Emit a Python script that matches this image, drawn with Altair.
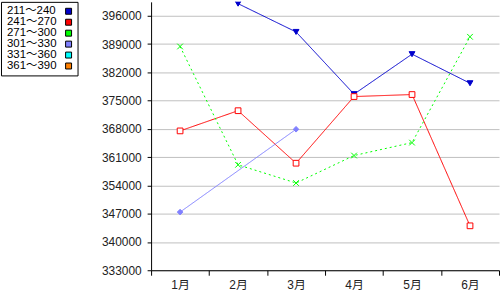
import altair as alt
import pandas as pd

FONT = "Liberation Sans, Noto Sans CJK JP, sans-serif"

months = ["1月", "2月", "3月", "4月", "5月", "6月"]
series_names = ["211～240", "241～270", "271～300", "301～330", "331～360", "361～390"]
series_colors = ["#0000CC", "#FF0000", "#00FF00", "#8080FF", "#00FFFF", "#FF8000"]

v_211_240 = [None, 399000, 392000, 376600, 386500, 379300]
v_241_270 = [367500, 372500, 359500, 376000, 376500, 344000]
v_271_300 = [388400, 359100, 354600, 361400, 364600, 390800]
v_301_330 = [347400, None, 367900, None, None, None]
v_331_360 = [None, None, None, None, None, None]
v_361_390 = [None, None, None, None, None, None]

y_ticks = [333000, 340000, 347000, 354000, 361000, 368000, 375000, 382000, 389000, 396000]

all_values = [v_211_240, v_241_270, v_271_300, v_301_330, v_331_360, v_361_390]
rows = []
for name, vals in zip(series_names, all_values):
    for m, v in zip(months, vals):
        if v is not None:
            rows.append({"series": name, "month": m, "value": v})
df = pd.DataFrame(rows)

shapes = ["triangle-down", "square", "M-1,-1L1,1M-1,1L1,-1", "diamond", "circle", "circle"]
fills = ["#0000CC", "#FFFFFF", "transparent", "#8080FF", "#00FFFF", "#FF8000"]
dashes = [[1, 0], [1, 0], [2, 3], [1, 0], [1, 0], [1, 0]]
sizes = [34, 30, 48, 34, 30, 30]

base = alt.Chart(df).encode(
    x=alt.X(
        "month:N",
        sort=months,
        scale=alt.Scale(type="band", domain=months, paddingInner=0, paddingOuter=0),
        axis=alt.Axis(
            title=None, tickBand="extent", labelAngle=0, labelFontSize=12,
            labelColor="#222222", tickColor="black", domainColor="black",
            tickSize=5, labelPadding=4, grid=False,
        ),
    ),
    y=alt.Y(
        "value:Q",
        scale=alt.Scale(domain=[333000, 399445], nice=False, zero=False),
        axis=alt.Axis(
            values=y_ticks, title=None, format="d", labelFontSize=12,
            labelColor="#222222", tickColor="black", domainColor="black",
            tickSize=4, labelPadding=6, gridColor="#C0C0C0", gridWidth=1,
        ),
    ),
)

lines = base.mark_line(strokeWidth=1, clip=True).encode(
    color=alt.Color("series:N", scale=alt.Scale(domain=series_names, range=series_colors), legend=None),
    strokeDash=alt.StrokeDash("series:N", scale=alt.Scale(domain=series_names, range=dashes), legend=None),
)

points = base.mark_point(strokeWidth=1, opacity=1, filled=True, clip=True).encode(
    shape=alt.Shape("series:N", scale=alt.Scale(domain=series_names, range=shapes), legend=None),
    stroke=alt.Stroke("series:N", scale=alt.Scale(domain=series_names, range=series_colors), legend=None),
    fill=alt.Fill("series:N", scale=alt.Scale(domain=series_names, range=fills), legend=None),
    size=alt.Size("series:N", scale=alt.Scale(domain=series_names, range=sizes), legend=None),
)

main = alt.layer(lines, points).properties(width=350, height=270)

leg_df = pd.DataFrame({"name": series_names})
leg_base = alt.Chart(leg_df).encode(
    y=alt.Y("name:N", scale=alt.Scale(type="point", domain=series_names, padding=0.86), axis=None)
)
leg_text = leg_base.mark_text(align="left", baseline="middle", fontSize=11.5, color="black").encode(
    x=alt.value(6), text="name:N"
)
leg_sw = leg_base.mark_square(size=36, stroke="black", strokeWidth=1, opacity=1).encode(
    x=alt.value(68),
    fill=alt.Fill("name:N", scale=alt.Scale(domain=series_names, range=series_colors), legend=None),
)
legend = alt.layer(leg_text, leg_sw).properties(
    width=77, height=74, view=alt.ViewBackground(stroke="black", strokeWidth=1)
)

chart = (
    alt.hconcat(legend, main, spacing=22)
    .resolve_scale(x="independent", y="independent", fill="independent", color="independent",
                   stroke="independent", shape="independent", strokeDash="independent",
                   size="independent")
    .properties(padding=0, background="white")
    .configure(font=FONT)
    .configure_view(stroke=None)
)

chart.save("out.html", embed_options={"renderer": "svg", "actions": False})
